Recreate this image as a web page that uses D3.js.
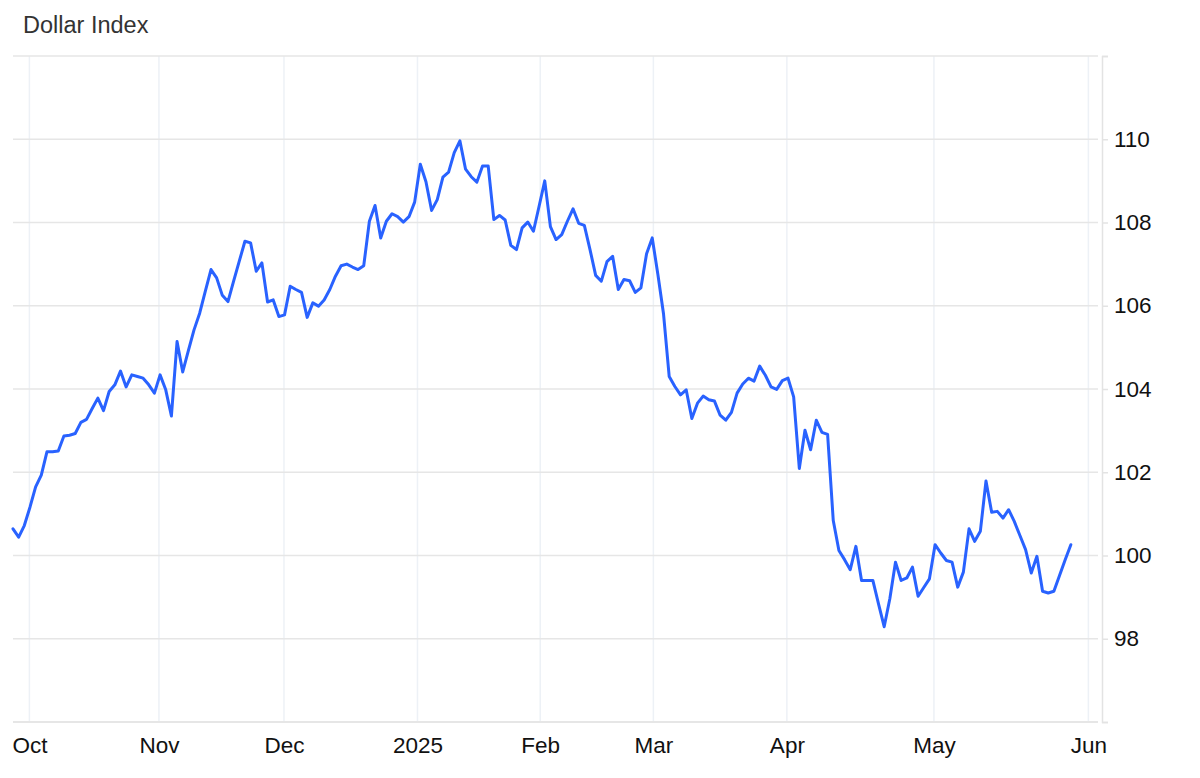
<!DOCTYPE html>
<html>
<head>
<meta charset="utf-8">
<script src="https://cdn.jsdelivr.net/npm/d3@7"></script>
<style>
  body { margin: 0; background: #fff; }
  svg { display: block; font-family: 'Liberation Sans', Arial, Helvetica, sans-serif; }
</style>
</head>
<body>
<div id="divChart"></div>
<script>
// chart title
var chartTitle = 'Dollar Index'

// daily closing values of the index, one entry per observation
var indexValues = [
  100.64, 100.44, 100.72, 101.16, 101.65, 101.93, 102.49, 102.49, 102.51, 102.87,
  102.89, 102.93, 103.20, 103.27, 103.53, 103.78, 103.48, 103.94, 104.10, 104.43,
  104.05, 104.34, 104.30, 104.26, 104.10, 103.90, 104.34, 103.98, 103.35, 105.14,
  104.41, 104.92, 105.42, 105.82, 106.35, 106.87, 106.67, 106.25, 106.10, 106.59,
  107.07, 107.55, 107.51, 106.83, 107.03, 106.09, 106.14, 105.74, 105.78, 106.47,
  106.39, 106.32, 105.72, 106.07, 105.99, 106.14, 106.39, 106.71, 106.96, 107.00,
  106.93, 106.87, 106.96, 108.03, 108.41, 107.63, 108.03, 108.21, 108.14, 108.01,
  108.14, 108.49, 109.40, 108.98, 108.29, 108.55, 109.09, 109.21, 109.68, 109.96,
  109.28, 109.10, 108.97, 109.36, 109.36, 108.07, 108.17, 108.06, 107.45, 107.35,
  107.87, 108.01, 107.79, 108.39, 109.00, 107.90, 107.59, 107.71, 108.03, 108.33,
  107.98, 107.93, 107.35, 106.73, 106.59, 107.06, 107.19, 106.39, 106.63, 106.60,
  106.32, 106.43, 107.25, 107.63, 106.75, 105.80, 104.30, 104.06, 103.86, 103.98,
  103.29, 103.66, 103.83, 103.74, 103.71, 103.37, 103.25, 103.44, 103.90, 104.12,
  104.26, 104.19, 104.55, 104.33, 104.05, 103.99, 104.20, 104.26, 103.81, 102.09,
  103.01, 102.54, 103.25, 102.96, 102.91, 100.84, 100.12, 99.90, 99.66, 100.22,
  99.40, 99.40, 99.40, 98.84, 98.29, 98.96, 99.84, 99.40, 99.46, 99.72,
  99.02, 99.23, 99.44, 100.26, 100.06, 99.88, 99.84, 99.24, 99.60, 100.64,
  100.34, 100.58, 101.79, 101.04, 101.06, 100.90, 101.10, 100.82, 100.48, 100.14,
  99.58, 99.98, 99.14, 99.10, 99.14, 99.52, 99.90, 100.26
]

// month labels and the observation index where each month starts
var monthLabels = ['Oct', 'Nov', 'Dec', '2025', 'Feb', 'Mar', 'Apr', 'May', 'Jun']
var monthStartIdx = [2.9, 25.8, 47.9, 71.5, 93.2, 113.2, 136.8, 162.8, 190.1]

// y ticks
var yTickValues = [96, 98, 100, 102, 104, 106, 108, 110, 112]
var yTickLabels = ['', '98', '100', '102', '104', '106', '108', '110', '']
var yDomain = [96, 112]
var xDomainMax = 191.8

// layout settings
var chart = {}
chart.width = 1200
chart.height = 778
chart.margin = { top: 56, right: 102, bottom: 56, left: 13 }
chart.innerW = chart.width - chart.margin.left - chart.margin.right
chart.innerH = chart.height - chart.margin.top - chart.margin.bottom
chart.fontSize = '22.5px'

// scales
chart.xScale = d3.scaleLinear().domain([0, xDomainMax]).range([0, chart.innerW])
chart.yScale = d3.scaleLinear().domain(yDomain).range([chart.innerH, 0])

var svg = d3
  .select('#divChart')
  .append('svg')
  .attr('width', chart.width)
  .attr('height', chart.height)

svg
  .append('text')
  .attr('x', 23)
  .attr('y', 33)
  .attr('fill', '#333')
  .style('font-size', '23.5px')
  .text(chartTitle)

var g = svg
  .append('g')
  .attr('transform', 'translate(' + chart.margin.left + ',' + chart.margin.top + ')')

// vertical grid lines at month starts
g.append('g')
  .selectAll('line')
  .data(monthStartIdx)
  .enter()
  .append('line')
  .attr('x1', function (d) { return chart.xScale(d) })
  .attr('x2', function (d) { return chart.xScale(d) })
  .attr('y1', 0)
  .attr('y2', chart.innerH)
  .attr('stroke', '#edf1f6')
  .attr('stroke-width', 1.5)

// horizontal grid lines
g.append('g')
  .selectAll('line')
  .data(yTickValues)
  .enter()
  .append('line')
  .attr('x1', 0)
  .attr('x2', chart.innerW)
  .attr('y1', function (d) { return chart.yScale(d) })
  .attr('y2', function (d) { return chart.yScale(d) })
  .attr('stroke', '#e6e6e6')
  .attr('stroke-width', function (d, i) { return i === 0 ? 2 : 1.5 })

// right axis
var yAxis = d3
  .axisRight(chart.yScale)
  .tickValues(yTickValues)
  .tickSize(6)
  .tickPadding(6)
  .tickFormat(function (d, i) { return yTickLabels[i] })

var gY = g
  .append('g')
  .attr('transform', 'translate(' + (chart.innerW + 4) + ',0)')
  .call(yAxis)
gY.select('.domain').attr('stroke', '#e3e3e3').attr('stroke-width', 1.5)
gY.selectAll('.tick line').attr('stroke', '#e3e3e3').attr('stroke-width', 1.5)
gY.selectAll('.tick text')
  .attr('fill', '#111')
  .style('font-size', chart.fontSize)
  .style('font-family', "'Liberation Sans', Arial, sans-serif")

// bottom axis with month labels
var xAxis = d3
  .axisBottom(chart.xScale)
  .tickValues(monthStartIdx)
  .tickSize(0)
  .tickPadding(15)
  .tickFormat(function (d, i) { return monthLabels[i] })

var gX = g
  .append('g')
  .attr('transform', 'translate(0,' + chart.innerH + ')')
  .call(xAxis)
gX.select('.domain').remove()
gX.selectAll('.tick text')
  .attr('fill', '#111')
  .style('font-size', chart.fontSize)
  .style('font-family', "'Liberation Sans', Arial, sans-serif")

// the index line
var line = d3
  .line()
  .x(function (d, i) { return chart.xScale(i) })
  .y(function (d) { return chart.yScale(d) })

g.append('path')
  .datum(indexValues)
  .attr('fill', 'none')
  .attr('stroke', '#2962ff')
  .attr('stroke-width', 3)
  .attr('stroke-linejoin', 'round')
  .attr('stroke-linecap', 'round')
  .attr('d', line)
</script>
</body>
</html>
